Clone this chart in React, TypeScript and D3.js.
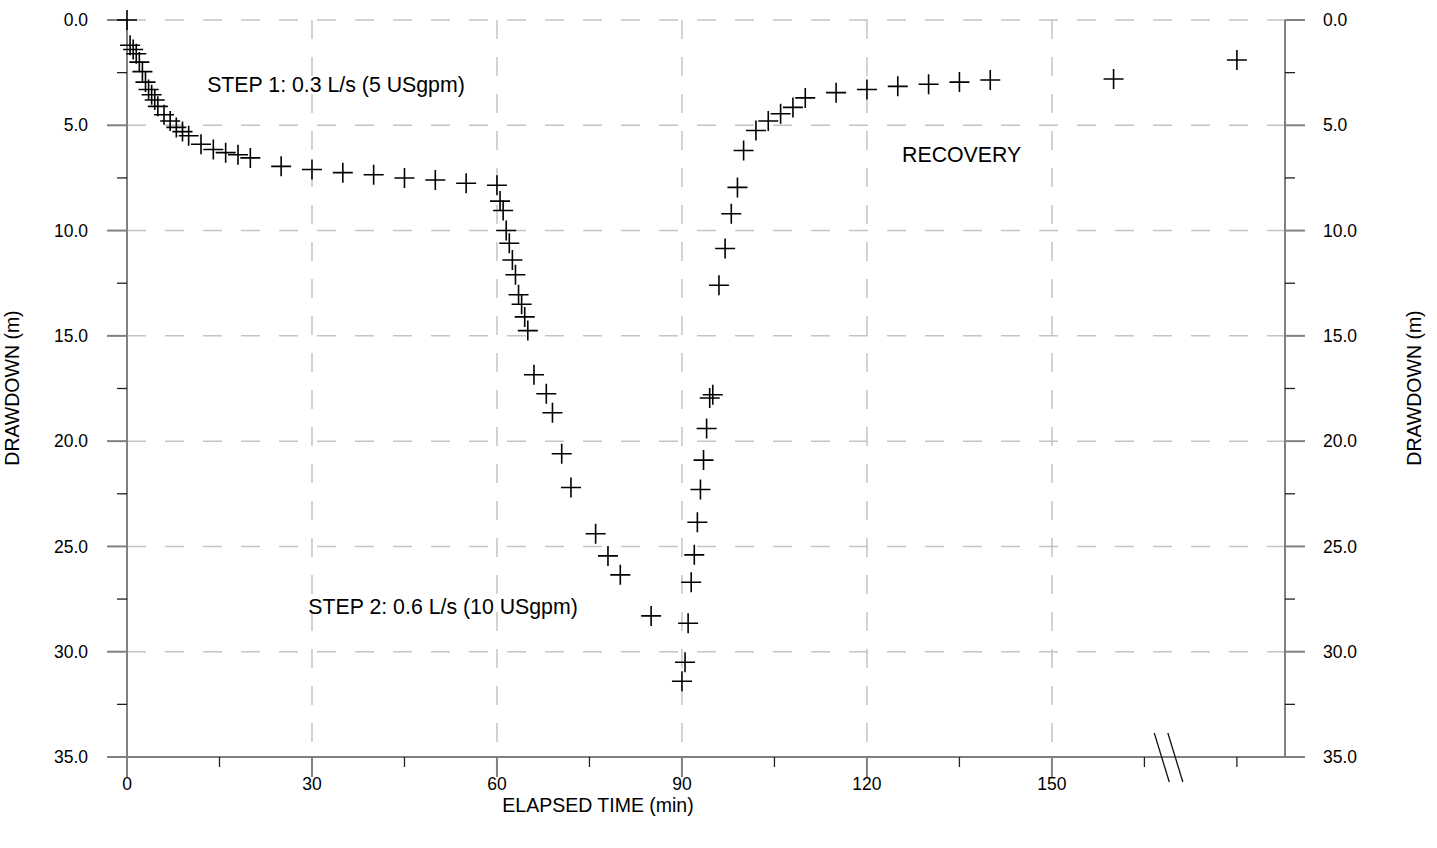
import React from "react";
import * as d3 from "d3";

// ---- data (elapsed time in minutes, drawdown in metres) ----
const step1Time = [0, 0.5, 1, 1.5, 2, 2.5, 3, 3.5, 4, 4.5, 5, 6, 7, 8, 9, 10, 12, 14, 16, 18, 20, 25, 30, 35, 40, 45, 50, 55, 60];
const step1Drawdown = [0, 1.2, 1.4, 1.6, 2.0, 2.45, 2.95, 3.3, 3.55, 3.8, 4.1, 4.5, 4.8, 5.1, 5.3, 5.5, 5.9, 6.15, 6.3, 6.4, 6.55, 6.95, 7.1, 7.25, 7.35, 7.5, 7.6, 7.75, 7.85];

const step2Time = [60.5, 61, 61.5, 62, 62.5, 63, 63.5, 64, 64.5, 65, 66, 68, 69, 70.5, 72, 76, 78, 80, 85, 90];
const step2Drawdown = [8.6, 9.05, 10.0, 10.6, 11.4, 12.1, 13.05, 13.5, 14.1, 14.75, 16.85, 17.75, 18.65, 20.6, 22.2, 24.4, 25.45, 26.35, 28.3, 31.4];

const recoveryTime = [90.5, 91, 91.5, 92, 92.5, 93, 93.5, 94, 94.5, 95, 96, 97, 98, 99, 100, 102, 104, 106, 108, 110, 115, 120, 125, 130, 135, 140, 160, 180];
const recoveryDrawdown = [30.5, 28.65, 26.7, 25.4, 23.85, 22.3, 20.9, 19.4, 17.95, 17.8, 12.6, 10.85, 9.2, 7.95, 6.2, 5.25, 4.8, 4.45, 4.15, 3.7, 3.45, 3.3, 3.15, 3.05, 2.95, 2.85, 2.8, 1.9];

const xDomain = [0, 187.8];
const yDomain = [0, 35];
const xMajorTicks = [0, 30, 60, 90, 120, 150];
const xMinorTicks = [15, 45, 75, 105, 135, 165, 180];
const xGridTicks = [30, 60, 90, 120, 150];
const yMajorTicks = [0, 5, 10, 15, 20, 25, 30, 35];
const yMinorTicks = [2.5, 7.5, 12.5, 17.5, 22.5, 27.5, 32.5];
const yGridTicks = [0, 5, 10, 15, 20, 25, 30];
const axisBreakTimes = [166.6, 168.8];

const annotations = [
  { text: "STEP 1: 0.3 L/s (5 USgpm)", t: 13, d: 3.4 },
  { text: "RECOVERY", t: 125.7, d: 6.72 },
  { text: "STEP 2: 0.6 L/s (10 USgpm)", t: 29.4, d: 28.23 },
];

const W = 1437;
const H = 848;
const L = 127, R = 1285, T = 20, B = 757;
const FONT = "'Liberation Sans', Arial, Helvetica, sans-serif";
const AXIS = "#808080";
const GRID = "#c4c4c4";
const TICK_FS = 17.5;
const TITLE_FS = 19.5;
const NOTE_FS = 21.3;

export default function App() {
  const x = d3.scaleLinear().domain(xDomain).range([L, R]);
  const y = d3.scaleLinear().domain(yDomain).range([T, B]);

  const points = [
    ...step1Time.map((t, i) => [t, step1Drawdown[i]]),
    ...step2Time.map((t, i) => [t, step2Drawdown[i]]),
    ...recoveryTime.map((t, i) => [t, recoveryDrawdown[i]]),
  ];

  const fmtY = d3.format(".1f");
  const ms = 10;

  return (
    <svg width={W} height={H} style={{ position: "absolute", left: 0, top: 0, background: "#fff" }} fontFamily={FONT}>
      <rect x={0} y={0} width={W} height={H} fill="#fff" />
      {/* grid */}
      {yGridTicks.map((v) => (
        <line key={"gy" + v} x1={L} x2={R} y1={y(v)} y2={y(v)} stroke={GRID} strokeWidth={1.5} strokeDasharray="19,19" />
      ))}
      {xGridTicks.map((v) => (
        <line key={"gx" + v} x1={x(v)} x2={x(v)} y1={T} y2={B} stroke={GRID} strokeWidth={1.5} strokeDasharray="19,18" />
      ))}

      {/* axes */}
      <line x1={L - 20} x2={R} y1={B} y2={B} stroke={AXIS} strokeWidth={2} />
      <line x1={L} x2={L} y1={T} y2={B + 20} stroke={AXIS} strokeWidth={2} />
      <line x1={R} x2={R} y1={T} y2={B} stroke={AXIS} strokeWidth={2} />

      {/* x ticks */}
      {xMajorTicks.map((v) => (
        <g key={"xt" + v}>
          <line x1={x(v)} x2={x(v)} y1={B} y2={B + 20} stroke={AXIS} strokeWidth={2} />
          <text x={x(v)} y={B + 32.5} textAnchor="middle" fontSize={TICK_FS} fill="#000">{v}</text>
        </g>
      ))}
      {xMinorTicks.map((v) => (
        <line key={"xm" + v} x1={x(v)} x2={x(v)} y1={B} y2={B + 10} stroke="#222" strokeWidth={1.3} />
      ))}

      {/* y ticks left + right */}
      {yMajorTicks.map((v) => (
        <g key={"yt" + v}>
          <line x1={L - 20} x2={L} y1={y(v)} y2={y(v)} stroke={AXIS} strokeWidth={2} />
          <line x1={R} x2={R + 20} y1={y(v)} y2={y(v)} stroke={AXIS} strokeWidth={2} />
          <text x={L - 39} y={y(v)} dy="0.35em" textAnchor="end" fontSize={TICK_FS} fill="#000">{fmtY(v)}</text>
          <text x={R + 38} y={y(v)} dy="0.35em" textAnchor="start" fontSize={TICK_FS} fill="#000">{fmtY(v)}</text>
        </g>
      ))}
      {yMinorTicks.map((v) => (
        <g key={"ym" + v}>
          <line x1={L - 10} x2={L} y1={y(v)} y2={y(v)} stroke="#222" strokeWidth={1.3} />
          <line x1={R} x2={R + 10} y1={y(v)} y2={y(v)} stroke="#222" strokeWidth={1.3} />
        </g>
      ))}

      {/* axis break */}
      {axisBreakTimes.map((t) => (
        <line key={"br" + t} x1={x(t)} x2={x(t) + 15} y1={B - 24} y2={B + 25} stroke="#111" strokeWidth={1.3} />
      ))}

      {/* titles */}
      <text x={598} y={812} textAnchor="middle" fontSize={TITLE_FS} fill="#000">ELAPSED TIME (min)</text>
      <text transform={`translate(19,388) rotate(-90)`} textAnchor="middle" fontSize={TITLE_FS} fill="#000">DRAWDOWN (m)</text>
      <text transform={`translate(1421,388) rotate(-90)`} textAnchor="middle" fontSize={TITLE_FS} fill="#000">DRAWDOWN (m)</text>

      {/* annotations */}
      {annotations.map((a) => (
        <text key={a.text} x={x(a.t)} y={y(a.d)} fontSize={NOTE_FS} fill="#000">{a.text}</text>
      ))}

      {/* markers */}
      {points.map(([t, d], i) => (
        <path
          key={"p" + i}
          d={`M${x(t) - ms},${y(d)}H${x(t) + ms}M${x(t)},${y(d) - ms}V${y(d) + ms}`}
          stroke="#000"
          strokeWidth={1.6}
          fill="none"
        />
      ))}
    </svg>
  );
}
